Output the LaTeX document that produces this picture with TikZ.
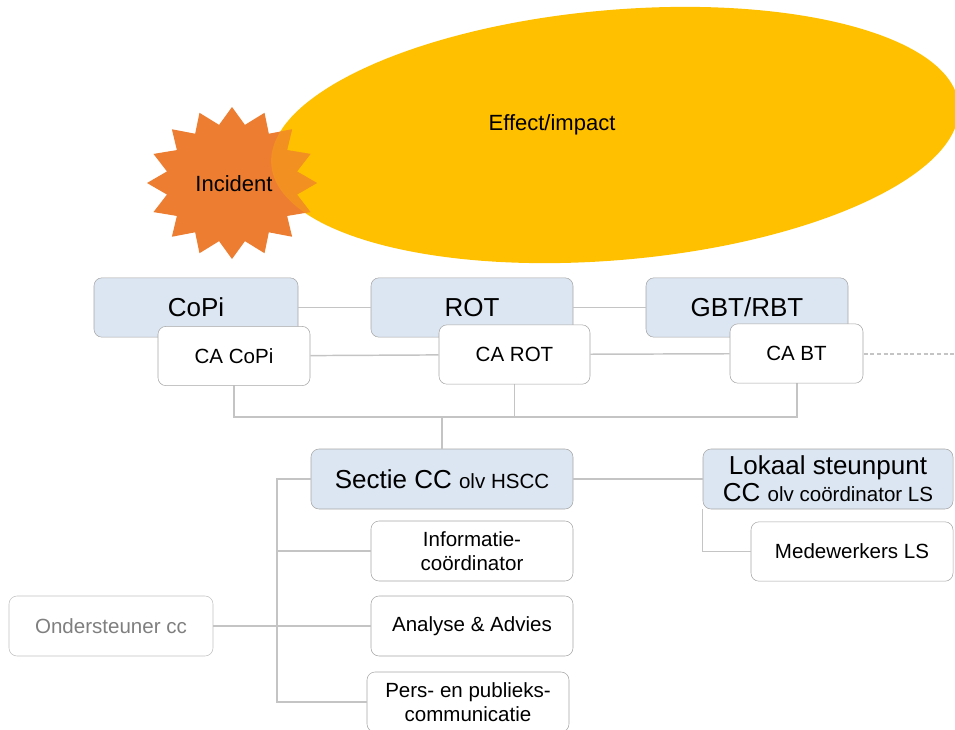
\documentclass[tikz,border=0pt]{standalone}
\usepackage{fontspec}
\setmainfont{Liberation Sans}
\usetikzlibrary{calc}

\definecolor{effectyellow}{HTML}{FFC000}
\definecolor{incidentorange}{HTML}{ED7D31}
\definecolor{boxblue}{HTML}{DCE6F2}
\definecolor{boxgray}{HTML}{A6A6A6}
\definecolor{linegray}{HTML}{C4C4C4}
\definecolor{softgray}{HTML}{7F7F7F}

\begin{document}
\begin{tikzpicture}[x=0.75pt,y=-0.75pt]
			\tikzstyle{topbox} = [draw=boxgray,fill=boxblue,rounded corners=6pt,minimum height=44.5pt,inner sep=0pt,font=\fontsize{19.5}{21.5}\selectfont,align=center];
			\tikzstyle{subbox} = [draw=boxgray,fill=white,rounded corners=6pt,minimum height=44.5pt,inner sep=0pt,font=\fontsize{15.4}{18}\selectfont,align=center];
			\tikzstyle{link} = [draw=linegray,line width=1.1pt];
			\useasboundingbox (0,0) rectangle (955,729);
			\clip (0,0) rectangle (955,729);
			\fill[effectyellow,rotate around={5:(615,135)}] (615,135) ellipse [x radius=345,y radius=125];
			\fill[incidentorange,shift={(232,183)}] (90:85 and 76)
				\foreach \k [evaluate=\k as \r using {1-0.22*mod(\k,2)}] in {1,...,31} { -- ({90+\k*11.25}:{85*\r} and {76*\r}) } -- cycle;
			\begin{scope}
				\clip[rotate around={5:(615,135)}] (615,135) ellipse [x radius=345,y radius=125];
				\fill[effectyellow,opacity=0.3,shift={(232,183)}] (90:85 and 76)
					\foreach \k [evaluate=\k as \r using {1-0.22*mod(\k,2)}] in {1,...,31} { -- ({90+\k*11.25}:{85*\r} and {76*\r}) } -- cycle;
			\end{scope}
			\node[font=\fontsize{16.5}{19}\selectfont] (effect) at (552,125) {Effect/impact};
			\node[font=\fontsize{16.5}{19}\selectfont] (incident) at (234,184) {Incident};
			\node[topbox,minimum width=153pt] (copi) at (196,307.5) {CoPi};
			\node[topbox,minimum width=151.5pt] (rot) at (472,307.5) {ROT};
			\node[topbox,minimum width=151.5pt] (gbt) at (747,307.5) {GBT/RBT};
			\draw[link] (copi) -- (rot);
			\draw[link] (rot) -- (gbt);
			\coordinate (bus) at (442,417);
			\coordinate (loose) at (955,354);
			\draw[link] (234,385) |- (bus) -| (797,383);
			\draw[link] (514.5,384) -- (514.5,417);
			\draw[link,line width=0.8pt,dashed,dash pattern=on 3pt off 2pt] (797,354) -- (loose);
			\node[subbox,minimum width=114pt] (cacopi) at (234,356) {CA CoPi};
			\node[subbox,minimum width=113.25pt] (carot) at (514.5,354.5) {CA ROT};
			\node[subbox,minimum width=99.75pt] (cabt) at (796.5,353.5) {CA BT};
			\draw[link] (cacopi) -- (carot);
			\draw[link] (carot) -- (cabt);
			\node[topbox,minimum width=196.5pt,minimum height=45pt] (sectie) at (442,479) {Sectie CC {\fontsize{15.4}{18}\selectfont olv HSCC}};
			\node[topbox,minimum width=187.5pt,minimum height=45pt] (lokaal) at (828,479) {\raisebox{-3pt}{Lokaal steunpunt}\\\raisebox{-2pt}{CC {\fontsize{15.4}{18}\selectfont olv coördinator LS}}};
			\node[subbox,minimum width=151.5pt] (medew) at (852,551.5) {Medewerkers LS};
			\node[subbox,minimum width=151.5pt,minimum height=45pt] (info) at (472,551) {Informatie-\\coördinator};
			\node[subbox,minimum width=151.5pt,minimum height=45pt] (analyse) at (472,626) {Analyse \& Advies};
			\node[subbox,minimum width=151.5pt,minimum height=45pt] (pers) at (468,702) {Pers- en publieks-\\communicatie};
			\node[subbox,draw=boxgray!70,text=softgray,minimum width=153pt,minimum height=45pt] (onder) at (111,626) {Ondersteuner cc};
			\draw[link] (bus) -- (sectie);
			\draw[link] (sectie) -- (lokaal);
			\draw[link] (lokaal.south west) |- (medew.west);
			\coordinate (trunk) at (277,479);
			\draw[link] (sectie.west) -- (trunk) |- (pers.west);
			\draw[link] (trunk |- info.west) -- (info.west);
			\draw[link] (onder.east) -- (analyse.west);
		\end{tikzpicture}
\end{document}
